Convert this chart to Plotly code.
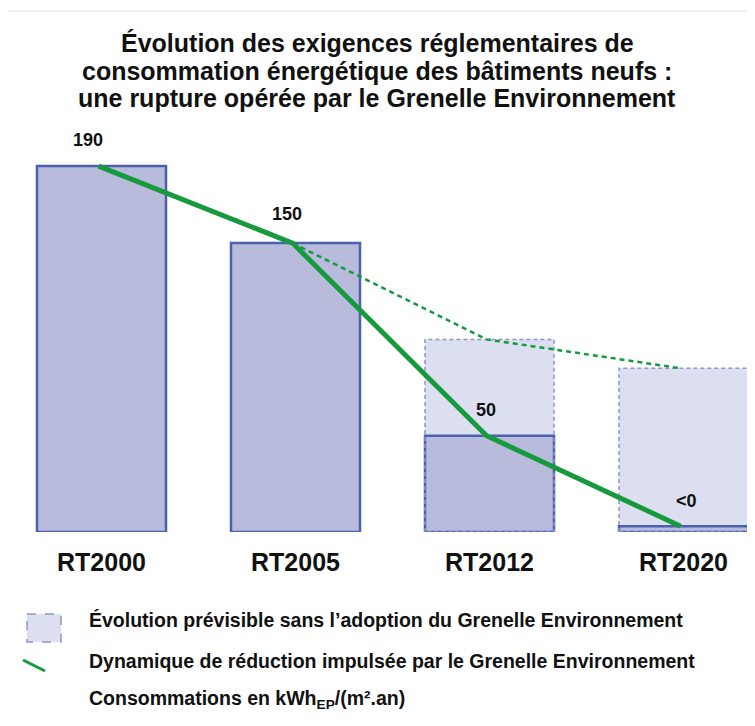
import plotly.graph_objects as go

categories = ["RT2000", "RT2005", "RT2012", "RT2020"]
actual_values = [190, 150, 50, 3]
forecast_values = [None, None, 100, 85]
trend_values = [190, 150, 50, 3]
forecast_trend = [None, 150, 100, 85]
value_labels = ["190", "150", "50", "<0"]

# the page body adds an 8px margin; lay out in page pixels and subtract it
OFF = 8
W, H = 755 - OFF, 726 - OFF


def px(x):
    return (x - OFF) / W


def py(y):
    return 1 - (y - OFF) / H


x_idx = list(range(len(categories)))
bw = 0.665
UNIT_X = 194.0
UNIT_Y = 1.926
X0_PAGE = 101.5  # page x of first category centre
BASE_PAGE = 532  # page y of baseline
TOP_PAGE = 130

SOLID_FILL = "#b9bbdc"
SOLID_LINE = "#4b61ad"
DASH_FILL = "#dcdfef"
DASH_LINE = "#9095c9"
GREEN = "#17993d"
FONT = "Liberation Sans, Arial"

fig = go.Figure()

fx = [i for i, v in zip(x_idx, forecast_values) if v is not None]
fy = [v for v in forecast_values if v is not None]
fig.add_trace(go.Bar(x=fx, y=fy, width=bw, marker=dict(color=DASH_FILL, line=dict(width=0)),
                     showlegend=False, hoverinfo="skip"))
for i, v in zip(fx, fy):
    fig.add_trace(go.Scatter(x=[i - bw / 2, i - bw / 2, i + bw / 2, i + bw / 2, i - bw / 2],
                             y=[0, v, v, 0, 0], mode="lines",
                             line=dict(color=DASH_LINE, width=1.5, dash="4px,3px"),
                             showlegend=False, hoverinfo="skip"))

fig.add_trace(go.Bar(x=x_idx, y=actual_values, width=bw,
                     marker=dict(color=SOLID_FILL, line=dict(color=SOLID_LINE, width=2.5)),
                     showlegend=False, hoverinfo="skip"))

fig.add_trace(go.Scatter(x=[i - 0.015 for i in x_idx], y=forecast_trend, mode="lines",
                         line=dict(color=GREEN, width=2.5, dash="5px,4px"),
                         connectgaps=False, showlegend=False, hoverinfo="skip"))
fig.add_trace(go.Scatter(x=[i - 0.015 for i in x_idx], y=trend_values, mode="lines",
                         line=dict(color=GREEN, width=5),
                         showlegend=False, hoverinfo="skip"))

annotations = []
label_xshift = [-14, -9, -4, 3]
label_yshift = [14, 17, 14, 13]
for i, v, t, xs, ys in zip(x_idx, actual_values, value_labels, label_xshift, label_yshift):
    annotations.append(dict(x=i, y=v, text="<b>%s</b>" % t, showarrow=False, xref="x", yref="y",
                            yanchor="bottom", xshift=xs, yshift=ys,
                            font=dict(family=FONT, size=18, color="#111")))
for i, c in zip(x_idx, categories):
    annotations.append(dict(x=i, y=0, text="<b>%s</b>" % c, showarrow=False, xref="x", yref="y",
                            yanchor="top", yshift=-14,
                            font=dict(family=FONT, size=25, color="#111")))

title_lines = ["Évolution des exigences réglementaires de",
               "consommation énergétique des bâtiments neufs :",
               "une rupture opérée par le Grenelle Environnement"]
title_y = [43, 71, 98]
for t, yy in zip(title_lines, title_y):
    annotations.append(dict(x=px(377), y=py(yy), xref="paper", yref="paper",
                            text="<b>%s</b>" % t, showarrow=False,
                            xanchor="center", yanchor="middle",
                            font=dict(family=FONT, size=25, color="#111")))

legend_texts = ["Évolution prévisible sans l’adoption du Grenelle Environnement",
                "Dynamique de réduction impulsée par le Grenelle Environnement",
                "Consommations en kWh<sub>EP</sub>/(m².an)"]
legend_y = [620, 661, 699]
for t, yy in zip(legend_texts, legend_y):
    annotations.append(dict(x=px(87), y=py(yy), xref="paper", yref="paper",
                            text="<b>%s</b>" % t, showarrow=False, xanchor="left", yanchor="middle",
                            font=dict(family=FONT, size=19.5, color="#111")))

shapes = [
    dict(type="rect", xref="paper", yref="paper", x0=px(27), x1=px(61), y0=py(614), y1=py(642),
         fillcolor=DASH_FILL, line=dict(color=DASH_LINE, width=1.5, dash="dash")),
    dict(type="line", xref="paper", yref="paper", x0=px(23), x1=px(45), y0=py(660), y1=py(671),
         line=dict(color=GREEN, width=3)),
    dict(type="line", xref="paper", yref="paper", x0=px(6), x1=1, y0=py(11), y1=py(11),
         line=dict(color="#dfe5ec", width=1.2)),
    dict(type="line", xref="paper", yref="paper", x0=px(6), x1=px(6), y0=py(11), y1=0,
         line=dict(color="#dfe5ec", width=1.2)),
]

fig.update_layout(
    width=W, height=H, margin=dict(l=0, r=0, t=0, b=0),
    paper_bgcolor="white", plot_bgcolor="white",
    barmode="overlay", showlegend=False,
    xaxis=dict(range=[-(X0_PAGE - OFF) / UNIT_X, (W - (X0_PAGE - OFF)) / UNIT_X], domain=[0, 1],
               visible=False, fixedrange=True),
    yaxis=dict(range=[0, (BASE_PAGE - TOP_PAGE) / UNIT_Y],
               domain=[1 - (BASE_PAGE - OFF) / H, 1 - (TOP_PAGE - OFF) / H],
               visible=False, fixedrange=True),
    annotations=annotations, shapes=shapes,
)

fig.write_html("out.html")
